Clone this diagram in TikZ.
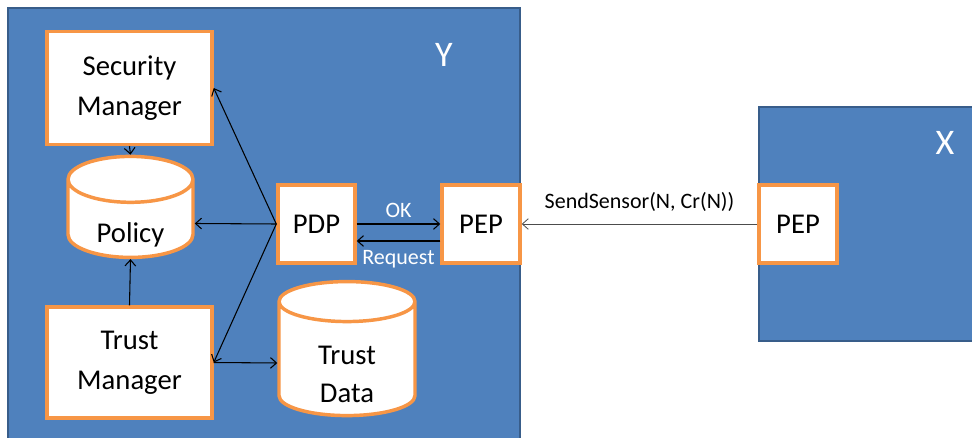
\documentclass[tikz,border=0pt]{standalone}
\usepackage{fontspec}
\setmainfont{Carlito}
\usepackage{xcolor}
\usetikzlibrary{shapes.geometric,arrows.meta}

\definecolor{zoneblue}{HTML}{4F81BD}
\definecolor{zoneedge}{HTML}{385D8A}
\definecolor{partorange}{HTML}{F79646}

% lowers a line of text without changing its box
\newcommand{\sinkline}[1]{\raisebox{-8.5pt}[\height][\depth]{#1}}

\tikzset{
    zonebox/.style={fill=zoneblue, draw=zoneedge, line width=1.5pt},
    part/.style={draw=partorange, fill=white, line width=2.6pt, align=center,
        font=\fontsize{21.5}{30}\selectfont},
    store/.style={part, cylinder, shape border rotate=90, aspect=0.6,
        font=\fontsize{21.5}{29}\selectfont},
    link/.style={draw=black, line width=0.8pt, -{Straight Barb[length=4.5pt,width=8pt]}},
    tag/.style={text=white, font=\fontsize{16.5}{20}\selectfont}
}

\begin{document}
\begin{tikzpicture}[x=0.75pt,y=-0.75pt]
    \useasboundingbox (0,0) rectangle (972,438);
    \clip (0,0) rectangle (972,438);

    % Zones
    \draw[zonebox] (8,8) rectangle (520,460);
    \draw[zonebox] (759,107) rectangle (990,341);
    \node[text=white, font=\fontsize{27}{30}\selectfont] (ylabel) at (444,55) {Y};
    \node[text=white, font=\fontsize{27}{30}\selectfont] (xlabel) at (945,143) {X};

    % Components of Y
    \node[part, minimum width=123.75pt, minimum height=84.75pt] (secmgr) at (129.5,88) {Security\\Manager};
    \node[store, minimum width=93.75pt, minimum height=75.75pt] (policy) at (130.5,223.5) {\sinkline{Policy}};
    \node[part, minimum width=123.75pt, minimum height=83.25pt] (trustmgr) at (129.5,362.5) {Trust\\Manager};
    \node[part, minimum width=57.75pt, minimum height=58.5pt] (pdp) at (316.5,224) {PDP};
    \node[part, minimum width=58.5pt, minimum height=58.5pt] (pepy) at (481,224) {PEP};
    \node[store, aspect=0.6, minimum width=102pt, minimum height=100.5pt] (trustdata) at (347,363) {\sinkline{Trust}\\\sinkline{Data}};

    % Component of X
    \node[part, minimum width=58.5pt, minimum height=58.5pt] (pepx) at (798,224) {PEP};

    % Connectors
    \draw[link] (secmgr.south) -- (policy.north);
    \draw[link] (trustmgr.north) -- (policy.south);
    \draw[link] (pdp.west) -- (secmgr.east);
    \draw[link] (pdp.west) -- (policy.east);
    \draw[link] (pdp.west) -- (trustmgr.east);
    \draw[link] (trustmgr.east) -- (trustdata.west);
    \draw[link] (pdp.east) -- node[tag, above=1pt] {OK} (pepy.west);
    \draw[link] ([yshift=-12.75pt]pepy.west) -- node[tag, below=3pt] {Request} ([yshift=-12.75pt]pdp.east);
    \draw[link, draw=black!70, line width=0.6pt] (pepx.west) -- node[above=6pt, font=\fontsize{16.5}{20}\selectfont] {SendSensor(N, Cr(N))} (pepy.east);
\end{tikzpicture}
\end{document}
